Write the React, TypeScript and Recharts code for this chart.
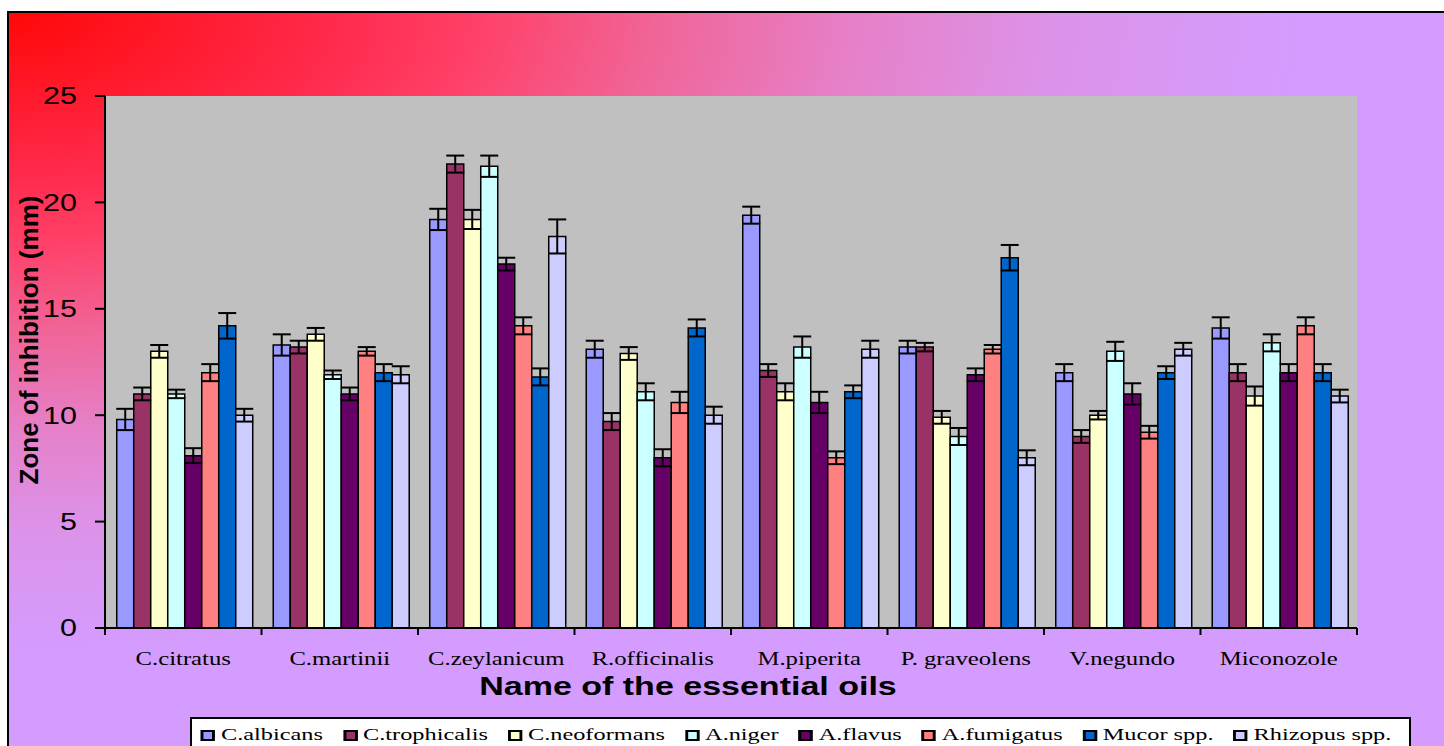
import React from "react";
import { Bar, BarChart, CartesianGrid, ErrorBar, XAxis, YAxis } from "recharts";

const categories = [
  "C.citratus",
  "C.martinii",
  "C.zeylanicum",
  "R.officinalis",
  "M.piperita",
  "P. graveolens",
  "V.negundo",
  "Miconozole",
];

const organisms = [
  "C.albicans",
  "C.trophicalis",
  "C.neoformans",
  "A.niger",
  "A.flavus",
  "A.fumigatus",
  "Mucor spp.",
  "Rhizopus spp.",
];

const colors = ["#9999ff", "#993366", "#ffffcc", "#ccffff", "#660066", "#ff8080", "#0066cc", "#ccccff"];

// zone of inhibition (mm), one value per oil
const albicans = [9.8, 13.3, 19.2, 13.1, 19.4, 13.2, 12.0, 14.1];
const trophicalis = [11.0, 13.2, 21.8, 9.7, 12.1, 13.2, 9.0, 12.0];
const neoformans = [13.0, 13.8, 19.2, 12.9, 11.1, 9.9, 10.0, 10.9];
const niger = [11.0, 11.9, 21.7, 11.1, 13.2, 9.0, 13.0, 13.4];
const flavus = [8.1, 11.0, 17.1, 8.0, 10.6, 11.9, 11.0, 12.0];
const fumigatus = [12.0, 13.0, 14.2, 10.6, 8.0, 13.1, 9.2, 14.2];
const mucor = [14.2, 12.0, 11.8, 14.1, 11.1, 17.4, 12.0, 12.0];
const rhizopus = [10.0, 11.9, 18.4, 10.0, 13.1, 8.0, 13.1, 10.9];

// error (+/-)
const albicansErr = [0.5, 0.5, 0.5, 0.4, 0.4, 0.3, 0.4, 0.5];
const trophicalisErr = [0.3, 0.3, 0.4, 0.4, 0.3, 0.2, 0.3, 0.4];
const neoformansErr = [0.3, 0.3, 0.45, 0.3, 0.4, 0.3, 0.2, 0.45];
const nigerErr = [0.2, 0.2, 0.5, 0.4, 0.5, 0.4, 0.45, 0.4];
const flavusErr = [0.35, 0.3, 0.3, 0.4, 0.5, 0.3, 0.5, 0.4];
const fumigatusErr = [0.4, 0.2, 0.4, 0.5, 0.3, 0.2, 0.3, 0.4];
const mucorErr = [0.6, 0.4, 0.4, 0.4, 0.3, 0.6, 0.3, 0.4];
const rhizopusErr = [0.3, 0.4, 0.8, 0.4, 0.4, 0.35, 0.3, 0.3];

const yTicks = [0, 5, 10, 15, 20, 25];

const values = [albicans, trophicalis, neoformans, niger, flavus, fumigatus, mucor, rhizopus];
const errors = [albicansErr, trophicalisErr, neoformansErr, nigerErr, flavusErr, fumigatusErr, mucorErr, rhizopusErr];

const rows = categories.map((name, i) => {
  const row: Record<string, string | number> = { name };
  values.forEach((s, k) => {
    row[`v${k}`] = s[i];
    row[`e${k}`] = errors[k][i];
  });
  return row;
});

const serif = "'Liberation Serif', 'Times New Roman', serif";
const sans = "'Liberation Sans', Arial, sans-serif";

function OilTick(props: any) {
  const { x, y, payload, index } = props;
  const half = payload?.offset ?? 78;
  const last = index === categories.length - 1;
  return (
    <g>
      <line x1={x - half} x2={x - half} y1={y} y2={y + 7} stroke="#000" strokeWidth={2} />
      {last && <line x1={x + half} x2={x + half} y1={y} y2={y + 7} stroke="#000" strokeWidth={2} />}
      <text
        transform={`translate(${x},${y + 37}) scale(1.3,1)`}
        textAnchor="middle"
        fontFamily={serif}
        fontSize={19}
        fill="#000"
      >
        {payload.value}
      </text>
    </g>
  );
}

function ZoneTick(props: any) {
  const { x, y, payload } = props;
  return (
    <text
      transform={`translate(${x - 16},${y}) scale(1.27,1)`}
      textAnchor="end"
      dominantBaseline="central"
      fontFamily={sans}
      fontSize={24}
      fill="#000"
    >
      {payload.value}
    </text>
  );
}

export default function App() {
  return (
    <div style={{ position: "fixed", left: 0, top: 0, width: 1444, height: 746, overflow: "hidden", background: "#fff" }}>
      <div
        style={{
          position: "absolute",
          left: 7,
          top: 11,
          width: 1460,
          height: 800,
          borderTop: "2px solid #000",
          borderLeft: "2px solid #000",
          background:
            "radial-gradient(ellipse 1300px 640px at 0px 0px, #ff0808 0%, #ff2a4c 25%, #ff4068 36%, #f06598 50%, #e680c8 65%, #dc92e8 80%, #d49cff 100%)",
        }}
      />
      <BarChart
        width={1444}
        height={746}
        data={rows}
        margin={{ top: 96, right: 87, left: 45, bottom: 78 }}
        barCategoryGap="7.5%"
        barGap={0}
        style={{ position: "absolute", left: 0, top: 0 }}
      >
        <CartesianGrid xAxisId="b" yAxisId="l" fill="#c0c0c0" horizontal={false} vertical={false} />
        <XAxis
          xAxisId="b"
          dataKey="name"
          height={40}
          tickSize={0}
          tickMargin={0}
          tickLine={false}
          axisLine={{ stroke: "#000", strokeWidth: 2 }}
          tick={OilTick}
          interval={0}
        />
        <XAxis xAxisId="t" dataKey="name" orientation="top" height={0} tick={false} tickLine={false} axisLine={{ stroke: "#808080", strokeWidth: 2 }} />
        <YAxis
          yAxisId="l"
          width={60}
          domain={[0, 25]}
          ticks={yTicks}
          interval={0}
          tickSize={10}
          tickLine={{ stroke: "#000", strokeWidth: 2 }}
          axisLine={{ stroke: "#000", strokeWidth: 2 }}
          tick={ZoneTick}
        />
        <YAxis
          yAxisId="r"
          orientation="right"
          width={0}
          domain={[0, 25]}
          tick={false}
          tickLine={false}
          axisLine={{ stroke: "#808080", strokeWidth: 2 }}
        />
        {organisms.map((org, k) => (
          <Bar
            key={org}
            xAxisId="b"
            yAxisId="l"
            dataKey={`v${k}`}
            name={org}
            fill={colors[k]}
            stroke="#000"
            strokeWidth={1.5}
            isAnimationActive={false}
          >
            <ErrorBar dataKey={`e${k}`} width={9} stroke="#000" strokeWidth={2} direction="y" isAnimationActive={false} />
          </Bar>
        ))}
      </BarChart>

      <div
        style={{
          position: "absolute",
          left: 0,
          top: 671,
          width: 1376,
          textAlign: "center",
          fontFamily: sans,
          fontWeight: "bold",
          fontSize: 25,
          lineHeight: "30px",
          color: "#000",
          transform: "scaleX(1.36)",
          transformOrigin: "688px 15px",
        }}
      >
        Name of the essential oils
      </div>

      <div
        style={{
          position: "absolute",
          left: 29 - 200,
          top: 340 - 15,
          width: 400,
          height: 30,
          textAlign: "center",
          fontFamily: sans,
          fontWeight: "bold",
          fontSize: 26,
          lineHeight: "30px",
          color: "#000",
          transform: "rotate(-90deg)",
        }}
      >
        Zone of inhibition (mm)
      </div>

      <div
        style={{
          position: "absolute",
          left: 190,
          top: 717,
          width: 1221,
          height: 50,
          boxSizing: "border-box",
          border: "2px solid #000",
          background: "#fff",
          overflow: "hidden",
        }}
      >
        <div
          style={{
            display: "flex",
            alignItems: "center",
            gap: 14,
            paddingLeft: 6.3,
            paddingTop: 6,
            transform: "scaleX(1.43)",
            transformOrigin: "0 0",
            whiteSpace: "nowrap",
          }}
        >
          {organisms.map((org, k) => (
            <div key={org} style={{ display: "flex", alignItems: "center", lineHeight: "20px" }}>
              <span
                style={{
                  display: "inline-block",
                  width: 10,
                  height: 11,
                  boxSizing: "border-box",
                  border: "2px solid #000",
                  background: colors[k],
                  marginRight: 4,
                }}
              />
              <span style={{ fontFamily: serif, fontSize: 17, color: "#000" }}>{org}</span>
            </div>
          ))}
        </div>
      </div>
    </div>
  );
}
